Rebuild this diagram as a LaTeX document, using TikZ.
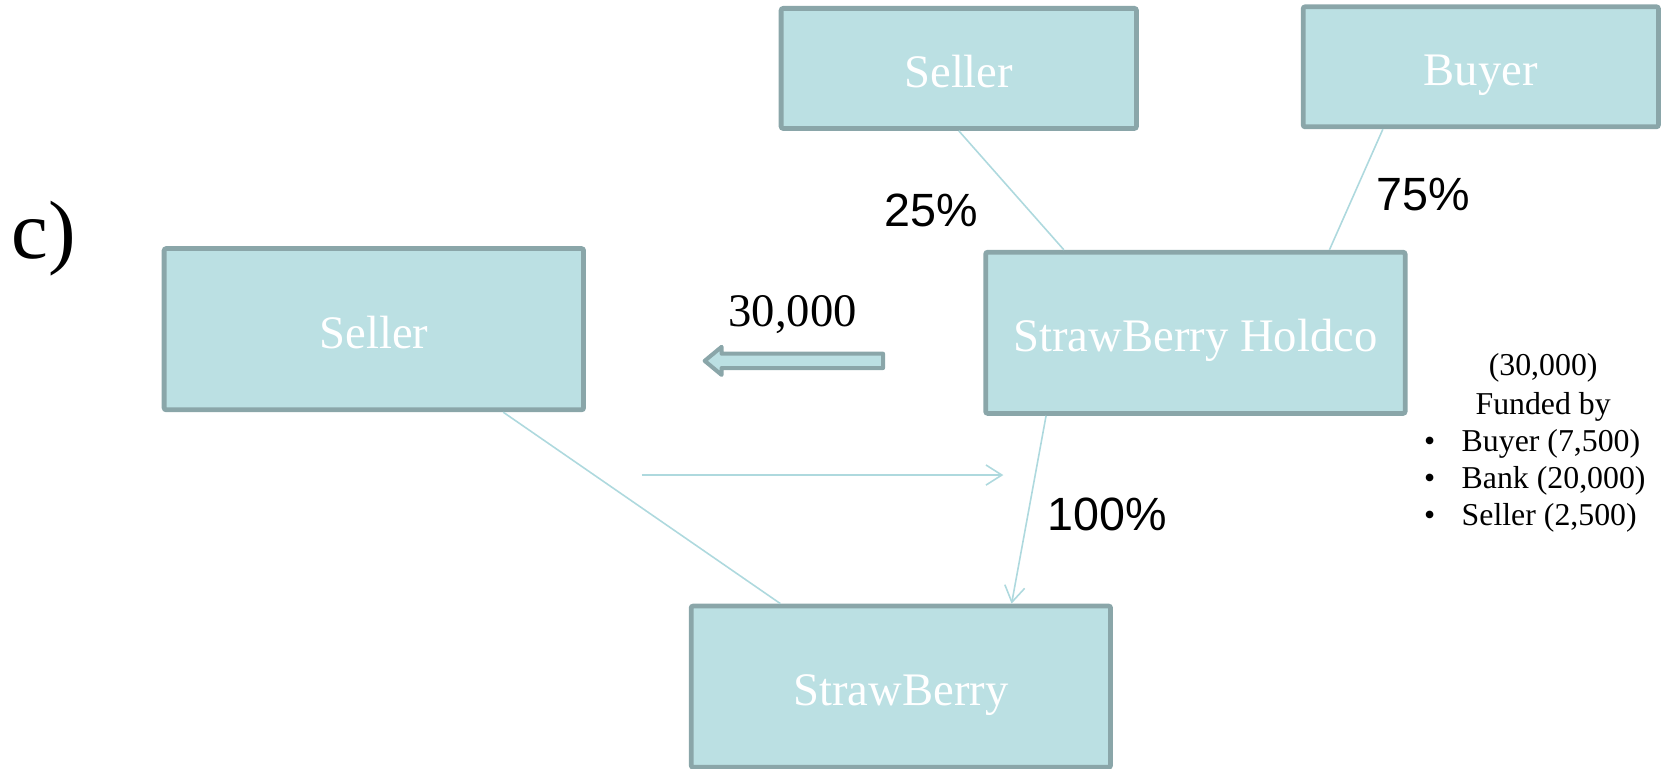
\documentclass[tikz,border=0pt]{standalone}
\usepackage{fontspec}
\setmainfont{Liberation Serif}
\newfontfamily\pctfont{Liberation Sans}
\usetikzlibrary{arrows.meta,calc}
\definecolor{boxfill}{RGB}{187,224,227}
\definecolor{boxline}{RGB}{138,166,169}
\definecolor{linkline}{RGB}{174,217,222}

\begin{document}
\begin{tikzpicture}[x=1pt,y=-1pt,
  entity/.style={rectangle, rounded corners=2pt, fill=boxfill, draw=boxline,
    line width=4.5pt, text=white, font=\fontsize{44}{44}\selectfont,
    text height=36pt, text depth=0pt, inner sep=0pt},
  bigbox/.style={entity, minimum width=395.5pt, minimum height=152pt},
  smallbox/.style={entity, minimum width=335pt, minimum height=113.2pt},
  link/.style={draw=linkline, line width=1.5pt},
  linkarrow/.style={link, -{Straight Barb[length=15pt,width=19pt]}},
  pct/.style={font=\pctfont\fontsize{44}{44}\selectfont, anchor=base, inner sep=0pt},
  note/.style={font=\fontsize{30}{30}\selectfont, anchor=base, inner sep=0pt},
]
\useasboundingbox (0,0) rectangle (1568,725);

% entities
\node[bigbox] (sellerL) at (352.5,310.4) {Seller};
\node[bigbox] (holdco) at (1127.1,313.8) {StrawBerry Holdco};
\node[bigbox] (strawberry) at (849.4,647.4) {StrawBerry};
\node[smallbox] (sellerT) at (904,64.5) {Seller};
\node[smallbox] (buyer) at (1396.2,63) {Buyer};

% ownership links
\draw[link] (sellerT.south) -- ($(holdco.north west)!0.19!(holdco.north east)$);
\draw[link] ($(buyer.south west)!0.228!(buyer.south east)$) -- ($(holdco.north west)!0.816!(holdco.north east)$);
\draw[linkarrow] ($(holdco.south west)!0.148!(holdco.south east)$) -- ($(strawberry.north west)!0.761!(strawberry.north east)$);
\draw[link] ($(sellerL.south west)!0.805!(sellerL.south east)$) -- ($(strawberry.north west)!0.216!(strawberry.north east)$);

% share transfer arrow
\coordinate (flowA) at (605,447.9);
\coordinate (flowB) at (946,447.9);
\draw[linkarrow] (flowA) -- (flowB);

% cash payment (hollow block arrow)
\draw[fill=boxfill, draw=boxline, line width=3.8pt, line join=round]
  (832.6,333.5) -- (680.4,333.5) -- (680.4,327) -- (664.4,340.25)
  -- (680.4,353.5) -- (680.4,347) -- (832.6,347) -- cycle;

% labels
\node[font=\fontsize{78}{78}\selectfont, anchor=base west, inner sep=0pt] (part) at (11,243.5) {c)};
\node[font=\fontsize{44}{44}\selectfont, anchor=base, inner sep=0pt] (amount) at (747.5,308) {30,000};
\node[pct] (p25) at (878,213.7) {25\%};
\node[pct] (p75) at (1342,198.6) {75\%};
\node[pct] (p100) at (1044,500.3) {100\%};

% funding note
\node[note] (n1) at (1455,353.6) {(30,000)};
\node[note] (n2) at (1455,390.4) {Funded by};
\node[note] (d1) at (1348,425.9) {•};
\node[note] (d2) at (1348,461) {•};
\node[note] (d3) at (1348,495.6) {•};
\node[note, anchor=base west] (f1) at (1378,425.9) {Buyer (7,500)};
\node[note, anchor=base west] (f2) at (1378,461) {Bank (20,000)};
\node[note, anchor=base west] (f3) at (1378,495.6) {Seller (2,500)};
\end{tikzpicture}
\end{document}
